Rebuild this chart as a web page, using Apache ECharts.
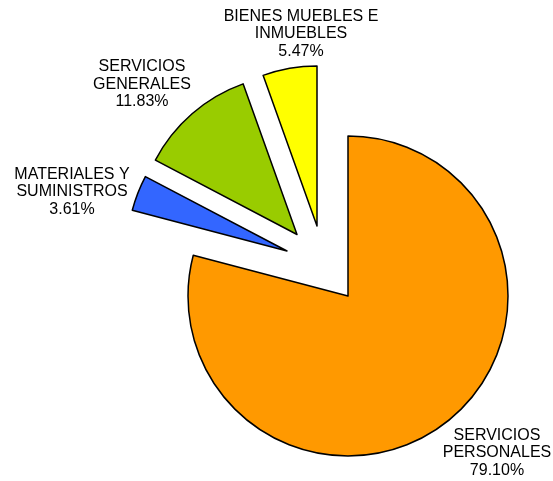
<!DOCTYPE html>
<html>
<head>
<meta charset="utf-8">
<script src="https://cdn.jsdelivr.net/npm/echarts@6/dist/echarts.min.js"></script>
<style>
  html, body { margin: 0; padding: 0; background: #fff; }
  #chart { width: 553px; height: 481px; }
</style>
</head>
<body>
<div id="chart"></div>
<script>
// data
const categories = ['SERVICIOS PERSONALES', 'MATERIALES Y SUMINISTROS', 'SERVICIOS GENERALES', 'BIENES MUEBLES E INMUEBLES'];
const labelNames = ['SERVICIOS\nPERSONALES', 'MATERIALES Y\nSUMINISTROS', 'SERVICIOS\nGENERALES', 'BIENES MUEBLES E\nINMUEBLES'];
const values = [79.10, 3.61, 11.83, 5.47];

// look
const colors = ['#FF9900', '#3366FF', '#99CC00', '#FFFF00'];
const centers = [[348, 296], [287, 251], [297, 234.5], [317, 226]]; // exploded slices
const radius = 160;
// label block centre relative to its slice centre (best-fit placement)
const labelOffsets = [[149, 157], [-215, -59], [-155, -150], [-16, -192]];

const chart = echarts.init(document.getElementById('chart'));

const series = values.map((_, i) => ({
  type: 'pie',
  center: centers[i],
  radius: radius,
  startAngle: 90,
  clockwise: true,
  animation: false,
  silent: true,
  avoidLabelOverlap: false,
  labelLine: { show: false },
  label: {
    position: 'outside',
    color: '#000',
    fontFamily: 'Liberation Sans, Arial, sans-serif',
    fontSize: 16,
    lineHeight: 17.5,
    align: 'center',
    formatter: p => labelNames[p.dataIndex] + '\n' + values[p.dataIndex].toFixed(2) + '%'
  },
  labelLayout: p => ({
    x: centers[i][0] + labelOffsets[p.dataIndex][0],
    y: centers[i][1] + labelOffsets[p.dataIndex][1],
    align: 'center',
    verticalAlign: 'middle'
  }),
  data: values.map((v, j) => ({
    name: categories[j],
    value: v,
    itemStyle: j === i
      ? { color: colors[j], borderColor: '#000', borderWidth: 1.5 }
      : { color: 'rgba(0,0,0,0)', borderWidth: 0 },
    label: { show: j === i }
  }))
}));

chart.setOption({
  backgroundColor: '#fff',
  series: series
});
</script>
</body>
</html>
